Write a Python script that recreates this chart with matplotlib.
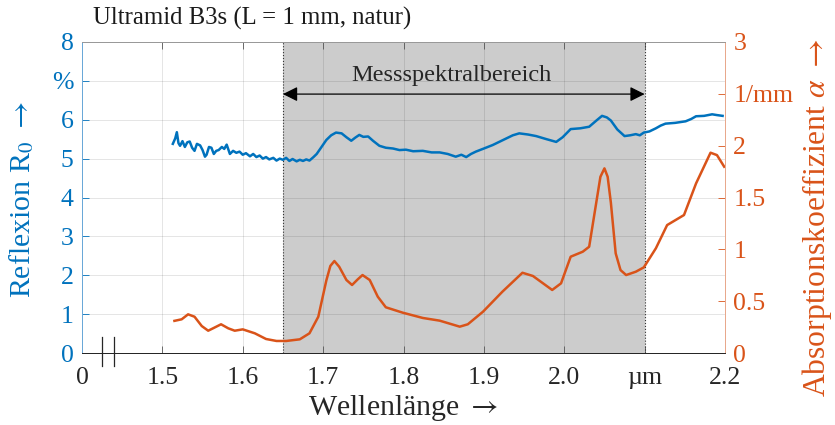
import numpy as np
import matplotlib.pyplot as plt
import matplotlib.transforms as mtransforms

plt.rcParams['font.family'] = ['Liberation Serif', 'DejaVu Serif']
plt.rcParams['mathtext.fontset'] = 'stix'

blue = '#0072BD'
orange = '#D95319'

# reflexion R0 in %
refl_wl = [1.513, 1.516, 1.518, 1.520, 1.522, 1.525, 1.528, 1.531, 1.534, 1.537,
           1.540, 1.543, 1.547, 1.550, 1.553, 1.555, 1.558, 1.561, 1.564, 1.567,
           1.570, 1.574, 1.577, 1.580, 1.584, 1.588, 1.592, 1.596, 1.600, 1.604,
           1.609, 1.613, 1.617, 1.621, 1.625, 1.629, 1.633, 1.638, 1.642, 1.646,
           1.650, 1.654, 1.658, 1.662, 1.667, 1.671, 1.675, 1.679, 1.683, 1.688,
           1.692, 1.698, 1.704, 1.710, 1.716, 1.723, 1.729, 1.735, 1.740, 1.745,
           1.750, 1.756, 1.762, 1.770, 1.778, 1.787, 1.795, 1.803, 1.812, 1.824,
           1.835, 1.845, 1.855, 1.865, 1.872, 1.878, 1.884, 1.890, 1.900, 1.911,
           1.920, 1.928, 1.936, 1.944, 1.955, 1.965, 1.978, 1.990, 1.998, 2.008,
           2.020, 2.031, 2.040, 2.047, 2.053, 2.058, 2.066, 2.075, 2.082, 2.089,
           2.094, 2.099, 2.106, 2.114, 2.120, 2.126, 2.138, 2.151, 2.158, 2.164,
           2.174, 2.184, 2.190, 2.197]
refl = [5.38, 5.52, 5.68, 5.40, 5.33, 5.45, 5.30, 5.42, 5.44, 5.28,
        5.20, 5.38, 5.34, 5.22, 5.05, 5.10, 5.30, 5.28, 5.12, 5.20,
        5.22, 5.30, 5.25, 5.36, 5.12, 5.20, 5.15, 5.18, 5.10, 5.14,
        5.06, 5.12, 5.04, 5.08, 5.00, 5.04, 4.98, 5.02, 4.95, 5.00,
        4.97, 5.02, 4.94, 4.99, 4.93, 4.97, 4.94, 4.98, 4.95, 5.04,
        5.12, 5.30, 5.48, 5.60, 5.67, 5.65, 5.55, 5.46, 5.54, 5.61,
        5.56, 5.57, 5.46, 5.33, 5.28, 5.26, 5.22, 5.23, 5.19, 5.20,
        5.16, 5.16, 5.12, 5.05, 5.10, 5.04, 5.12, 5.18, 5.26, 5.35,
        5.44, 5.52, 5.60, 5.65, 5.62, 5.58, 5.50, 5.43, 5.55, 5.76,
        5.78, 5.82, 5.98, 6.10, 6.06, 5.98, 5.75, 5.58, 5.60, 5.63,
        5.60, 5.67, 5.70, 5.78, 5.85, 5.90, 5.92, 5.96, 6.02, 6.09,
        6.10, 6.14, 6.12, 6.10]

# absorption coefficient alpha in 1/mm
abs_wl = [1.515, 1.524, 1.532, 1.540, 1.549, 1.557, 1.563, 1.573, 1.582, 1.590,
          1.600, 1.615, 1.629, 1.642, 1.654, 1.671, 1.683, 1.694, 1.704, 1.709,
          1.714, 1.720, 1.729, 1.736, 1.743, 1.749, 1.758, 1.768, 1.778, 1.799,
          1.824, 1.845, 1.870, 1.880, 1.899, 1.923, 1.948, 1.961, 1.985, 1.996,
          2.008, 2.023, 2.031, 2.039, 2.045, 2.050, 2.054, 2.058, 2.064, 2.070,
          2.077, 2.089, 2.099, 2.114, 2.128, 2.149, 2.164, 2.182, 2.190, 2.199]
absorp = [0.31, 0.325, 0.373, 0.35, 0.26, 0.215, 0.238, 0.277, 0.238, 0.215,
          0.228, 0.19, 0.135, 0.116, 0.116, 0.132, 0.19, 0.35, 0.70, 0.84,
          0.887, 0.832, 0.704, 0.656, 0.71, 0.752, 0.704, 0.543, 0.441, 0.389,
          0.338, 0.312, 0.254, 0.277, 0.399, 0.591, 0.774, 0.743, 0.608, 0.672,
          0.929, 0.977, 1.025, 1.411, 1.70, 1.781, 1.70, 1.45, 0.961, 0.80,
          0.752, 0.784, 0.826, 1.010, 1.234, 1.331, 1.636, 1.932, 1.909, 1.797]

xticks = [1.4, 1.5, 1.6, 1.7, 1.8, 1.9, 2.0, 2.1, 2.2]
xticklabels = ['0', '1.5', '1.6', '1.7', '1.8', '1.9', '2.0', 'µm', '2.2']
yticks_l = [0, 1, 2, 3, 4, 5, 6, 7, 8]
yticklabels_l = ['0', '1', '2', '3', '4', '5', '6', '%', '8']
yticks_r = [0, 0.5, 1, 1.5, 2, 2.5, 3]
yticklabels_r = ['0', '0.5', '1', '1.5', '2', '1/mm', '3']
band = (1.65, 2.1)

fig = plt.figure(figsize=(8.35, 4.25), dpi=100)
ax = fig.add_axes([82 / 835, 72 / 425, 643 / 835, 311 / 425])
ax2 = ax.twinx()

ax.axvspan(band[0], band[1], color='#cccccc', lw=0, zorder=0.2)
for b in band:
    ax.axvline(b, color='#333333', lw=0.8, ls=':', zorder=0.6)

ax.plot(refl_wl, refl, color=blue, lw=1.8, zorder=2)
ax2.plot(abs_wl, absorp, color=orange, lw=1.8)

ax.set_xlim(1.4, 2.2)
ax.set_ylim(0, 8)
ax2.set_ylim(0, 3)

ax.set_xticks(xticks)
ax.set_xticklabels(xticklabels)
ax.set_yticks(yticks_l)
ax.set_yticklabels(yticklabels_l)
ax2.set_yticks(yticks_r)
ax2.set_yticklabels(yticklabels_r)

ax.set_axisbelow(True)
ax.grid(True, color='#262626', alpha=0.12, lw=0.7)

ax.tick_params(axis='x', direction='in', top=True, length=5, width=0.6,
               color='#555555', labelsize=18.5, labelcolor='#262626', pad=10)
ax.tick_params(axis='y', direction='in', length=5, width=0.6,
               color=blue, labelsize=18.5, labelcolor=blue, pad=6)
ax2.tick_params(axis='y', direction='in', length=5, width=0.6,
                color=orange, labelsize=18.5, labelcolor=orange, pad=6)

for a in (ax, ax2):
    a.spines['top'].set_color('#999999')
    a.spines['bottom'].set_color('#262626')
    a.spines['left'].set_color('#6aa8d8')
    a.spines['right'].set_color('#e8a88c')
    for s in a.spines.values():
        s.set_linewidth(0.7)

# broken-axis mark near the origin
trans = mtransforms.blended_transform_factory(ax.transData, ax.transAxes)
for xb in (1.425, 1.44):
    ax.plot([xb, xb], [0.051, -0.042], color='#262626', lw=0.9,
            transform=trans, clip_on=False)

ax.annotate('', xy=(band[0], 6.66), xytext=(band[1], 6.66),
            arrowprops=dict(arrowstyle='<|-|>', color='black', lw=0.9,
                            mutation_scale=22, shrinkA=0, shrinkB=0))
ax.text(1.86, 7.15, 'Messspektralbereich', ha='center', va='center',
        fontsize=17.6, color='#262626')

ax.set_xlabel(r'Wellenlänge $\rightarrow$', fontsize=21.5, color='#262626',
              labelpad=3)
fig.text(22 / 835, 1 - 200 / 425, r'Reflexion R$_0$ $\rightarrow$', rotation=90,
         ha='center', va='center', fontsize=21.5, color=blue)
fig.text(817 / 835, 1 - 218 / 425, r'Absorptionskoeffizient $\alpha$ $\rightarrow$',
         rotation=90, ha='center', va='center', fontsize=22.8, color=orange)
fig.text(93 / 835, 1 - 18 / 425, 'Ultramid B3s (L = 1 mm, natur)',
         ha='left', va='center', fontsize=17.8, color='#1a1a1a')

fig.savefig('out.png', dpi=100)
